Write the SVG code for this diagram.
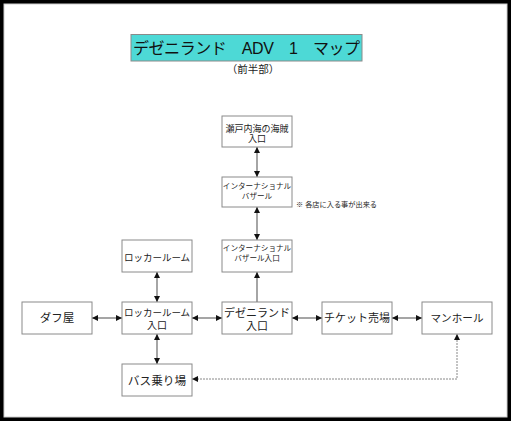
<svg xmlns="http://www.w3.org/2000/svg" width="511" height="421" viewBox="0 0 511 421">
<style>
.box{fill:#fff;stroke:#8a8a8a;stroke-width:1}
.t{font-family:"Liberation Sans","Noto Sans CJK JP",sans-serif;fill:#222;text-anchor:middle}
.ln{fill:none;stroke:#6a6a6a;stroke-width:1.2}
.dash{fill:none;stroke:#888;stroke-width:1;stroke-dasharray:2 1}
</style>
<defs>
<marker id="ah" markerUnits="userSpaceOnUse" markerWidth="6" markerHeight="6" refX="6" refY="3" orient="auto-start-reverse">
<path d="M0,0 L6,3 L0,6 z" fill="#111"/>
</marker>
</defs>
<rect x="0" y="0" width="511" height="421" fill="#000"/>
<rect x="4" y="4" width="503" height="413" fill="#fff" stroke="#cfcfcf" stroke-width="1"/>
<g id="title">
<rect x="131" y="34.5" width="231" height="26.5" fill="#4dd9d6" stroke="#8a8a8a" stroke-width="1"/>
<text x="133" y="54" font-family="'Liberation Sans','Noto Sans CJK JP',sans-serif" font-size="16" fill="#111" textLength="227" lengthAdjust="spacing">デゼニランド　ADV　1　マップ</text>
<text x="253" y="72.5" class="t" font-size="10.5">（前半部）</text>
</g>
<g id="connectors">
<line class="ln" x1="257" y1="147" x2="257" y2="177" marker-start="url(#ah)" marker-end="url(#ah)"/>
<line class="ln" x1="257" y1="207" x2="257" y2="240" marker-start="url(#ah)" marker-end="url(#ah)"/>
<line class="ln" x1="257" y1="302" x2="257" y2="272" marker-end="url(#ah)"/>
<line class="ln" x1="157" y1="272" x2="157" y2="302" marker-start="url(#ah)" marker-end="url(#ah)"/>
<line class="ln" x1="157" y1="334" x2="157" y2="364" marker-start="url(#ah)" marker-end="url(#ah)"/>
<line class="ln" x1="92" y1="318" x2="122" y2="318" marker-start="url(#ah)" marker-end="url(#ah)"/>
<line class="ln" x1="192" y1="318" x2="222" y2="318" marker-start="url(#ah)" marker-end="url(#ah)"/>
<line class="ln" x1="292" y1="318" x2="322" y2="318" marker-start="url(#ah)" marker-end="url(#ah)"/>
<line class="ln" x1="392" y1="318" x2="422" y2="318" marker-start="url(#ah)" marker-end="url(#ah)"/>
<path class="dash" d="M457,334 V379 H192" marker-start="url(#ah)" marker-end="url(#ah)"/>
</g>
<g id="n-pirates">
<rect class="box" x="222" y="116" width="70" height="31"/>
<text class="t" x="257" y="131.5" font-size="9">瀬戸内海の海賊</text>
<text class="t" x="257" y="142" font-size="9">入口</text>
</g>
<g id="n-bazaar">
<rect class="box" x="222" y="177" width="70" height="30"/>
<text class="t" x="257" y="188.5" font-size="7.6">インターナショナル</text>
<text class="t" x="257" y="198.5" font-size="7.6">バザール</text>
</g>
<text id="note" x="296" y="207" font-family="'Liberation Sans','Noto Sans CJK JP',sans-serif" font-size="7.2" fill="#222">※ 各店に入る事が出来る</text>
<g id="n-bazaar-entrance">
<rect class="box" x="222" y="240" width="70" height="32"/>
<text class="t" x="257" y="250.5" font-size="7.6">インターナショナル</text>
<text class="t" x="257" y="260.5" font-size="7.6">バザール入口</text>
</g>
<g id="n-locker">
<rect class="box" x="122" y="240" width="70" height="32"/>
<text class="t" x="157" y="261" font-size="9.5">ロッカールーム</text>
</g>
<g id="n-scalper">
<rect class="box" x="22" y="302" width="70" height="32"/>
<text class="t" x="57" y="322" font-size="11.5">ダフ屋</text>
</g>
<g id="n-locker-entrance">
<rect class="box" x="122" y="302" width="70" height="32"/>
<text class="t" x="157" y="316" font-size="9.5">ロッカールーム</text>
<text class="t" x="157" y="329" font-size="10">入口</text>
</g>
<g id="n-dezeni-entrance">
<rect class="box" x="222" y="302" width="70" height="32"/>
<text class="t" x="257" y="316.5" font-size="11">デゼニランド</text>
<text class="t" x="257" y="330" font-size="11">入口</text>
</g>
<g id="n-ticket">
<rect class="box" x="322" y="302" width="70" height="32"/>
<text class="t" x="357" y="322" font-size="11">チケット売場</text>
</g>
<g id="n-manhole">
<rect class="box" x="422" y="302" width="70" height="32"/>
<text class="t" x="457" y="322" font-size="10.6">マンホール</text>
</g>
<g id="n-bus">
<rect class="box" x="122" y="364" width="70" height="32"/>
<text class="t" x="157" y="385" font-size="11.7">バス乗り場</text>
</g>
</svg>
